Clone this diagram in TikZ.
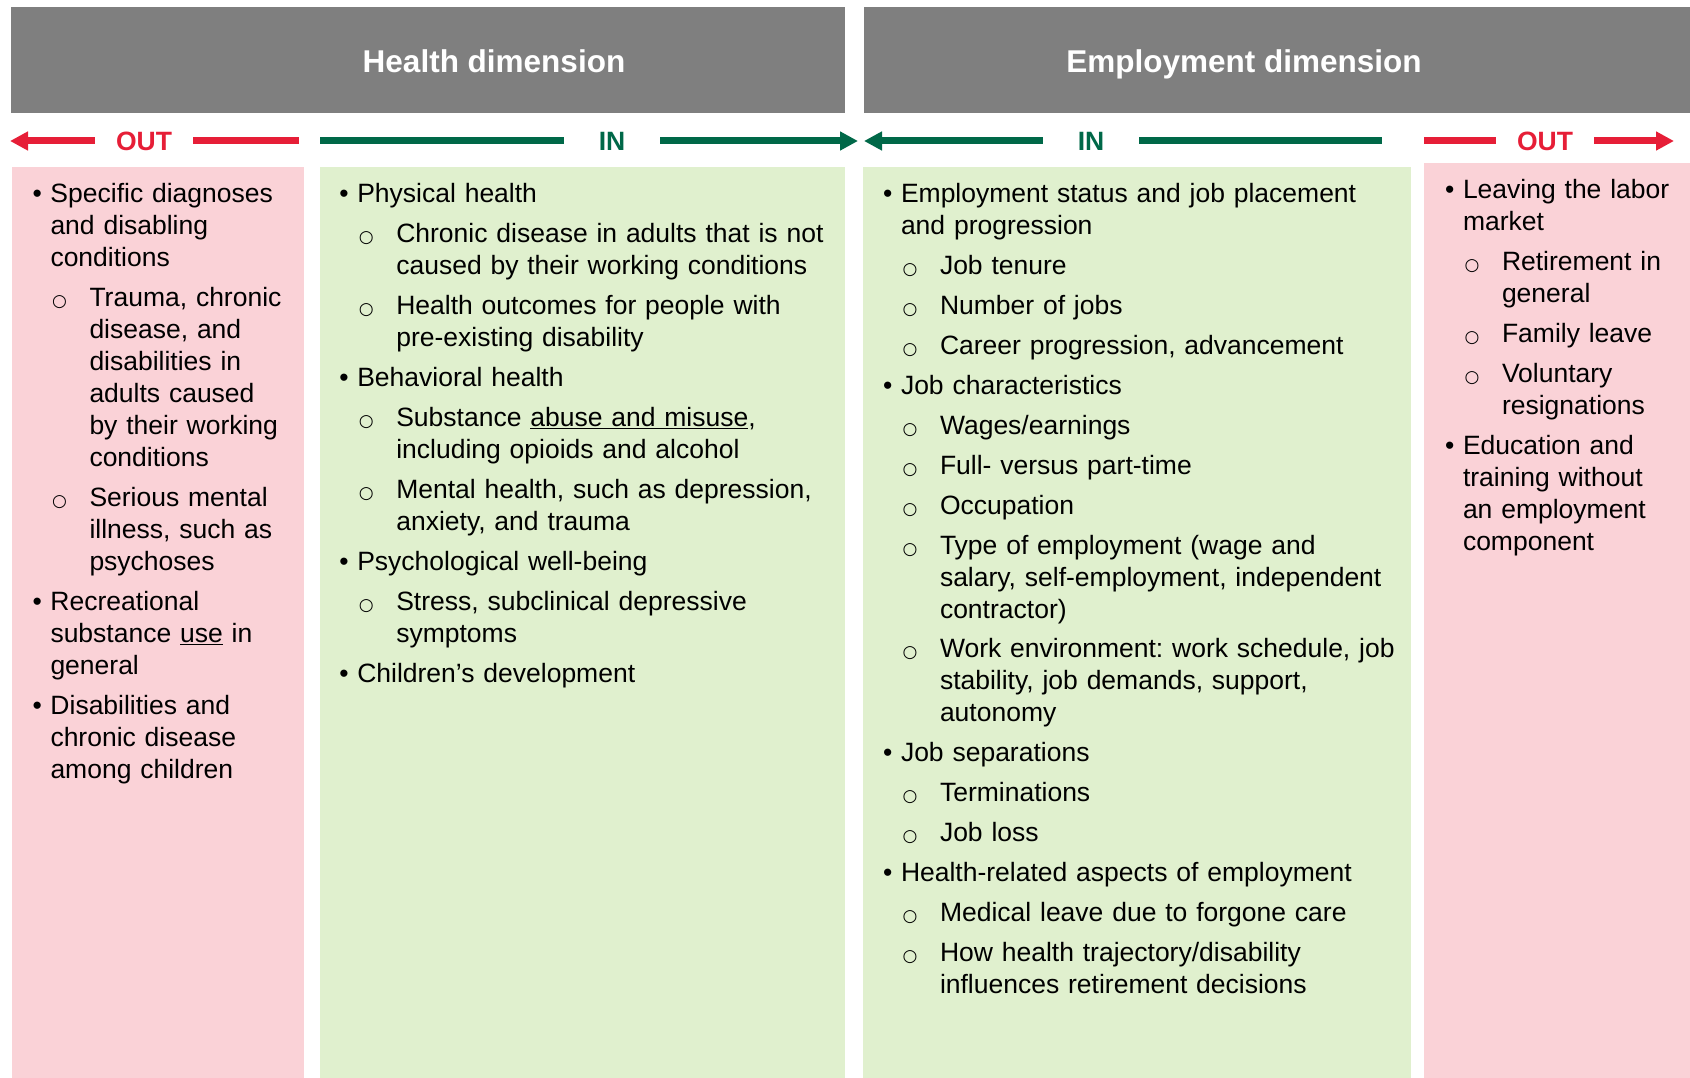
\documentclass[tikz,border=0pt]{standalone}
\usepackage{fontspec}
\setmainfont{Liberation Sans}
\newfontfamily\dejaf{DejaVu Sans}
\usetikzlibrary{arrows.meta}
\definecolor{hdrgray}{RGB}{127,127,127}
\definecolor{outpink}{RGB}{250,210,215}
\definecolor{ingreen}{RGB}{224,240,206}
\definecolor{outred}{RGB}{230,30,55}
\definecolor{indkgreen}{RGB}{0,104,72}
\newcommand\MainIt[1]{\par\leftskip=0pt\noindent\strut\llap{\makebox[18pt][l]{\textbullet}}#1\par}
\newcommand\SubIt[1]{\par\leftskip=39pt\noindent\strut\llap{\makebox[37.5pt][l]{{\fontsize{17}{17}\selectfont\dejaf ○}}}#1\par}
\frenchspacing
\begin{document}
\begin{tikzpicture}[x=1pt,y=-1pt,
  box/.style={draw=none,inner sep=0pt,outer sep=0pt,anchor=north west},
  hdrtext/.style={text=white,font=\fontsize{31.5}{38}\selectfont\bfseries,inner sep=0pt,anchor=base},
  lbl/.style={font=\fontsize{26.5}{32}\selectfont\bfseries,inner ysep=0pt},
  outlbl/.style={lbl,text=outred,inner xsep=21pt},
  inlbl/.style={lbl,text=indkgreen,inner xsep=35pt},
  redln/.style={draw=outred,line width=7pt},
  grnln/.style={draw=indkgreen,line width=7pt},
  tip/.style={-{Triangle[length=18pt,width=18pt]}},
  coltext/.style={anchor=north west,inner sep=0pt,outer sep=0pt,align=left,
    font=\fontsize{26.5}{32}\selectfont\frenchspacing}]
\useasboundingbox (0,0) rectangle (1690,1078);
% headers
\node[box,fill=hdrgray,minimum width=834pt,minimum height=106pt] (hhdr) at (11,7) {};
\node[box,fill=hdrgray,minimum width=826pt,minimum height=106pt] (ehdr) at (864,7) {};
\node[hdrtext] (htitle) at (494,72.5) {Health dimension};
\node[hdrtext] (etitle) at (1244,72.5) {Employment dimension};
% columns
\node[box,fill=outpink,minimum width=292pt,minimum height=911pt] (c1) at (12,167) {};
\node[box,fill=ingreen,minimum width=525pt,minimum height=911pt] (c2) at (320,167) {};
\node[box,fill=ingreen,minimum width=548pt,minimum height=911pt] (c3) at (863,167) {};
\node[box,fill=outpink,minimum width=266pt,minimum height=915pt] (c4) at (1424,163) {};
% arrow row
\node[outlbl] (out1) at (144,141) {OUT};
\coordinate (out1tip) at (10,141);
\coordinate (out1end) at (299,141);
\draw[redln,tip] (out1.west) -- (out1tip);
\draw[redln] (out1.east) -- (out1end);
\node[inlbl] (in1) at (612,141) {IN};
\coordinate (in1start) at (320,141);
\coordinate (in1tip) at (858,141);
\draw[grnln] (in1.west) -- (in1start);
\draw[grnln,tip] (in1.east) -- (in1tip);
\node[inlbl] (in2) at (1091,141) {IN};
\coordinate (in2tip) at (864,141);
\coordinate (in2end) at (1382,141);
\draw[grnln,tip] (in2.west) -- (in2tip);
\draw[grnln] (in2.east) -- (in2end);
\node[outlbl] (out2) at (1545,141) {OUT};
\coordinate (out2start) at (1424,141);
\coordinate (out2tip) at (1674,141);
\draw[redln] (out2.west) -- (out2start);
\draw[redln,tip] (out2.east) -- (out2tip);
% column texts
\node[coltext,text width=300pt] (t1) at (50.5,163) {\parskip=7.9pt
\MainIt{Specific diagnoses\newline and disabling\newline conditions}
\SubIt{Trauma, chronic\newline disease, and\newline disabilities in\newline adults caused\newline by their working\newline conditions}
\SubIt{Serious mental\newline illness, such as\newline psychoses}
\MainIt{Recreational\newline substance \underline{use} in\newline general}
\MainIt{Disabilities and\newline chronic disease\newline among children}};
\node[coltext,text width=480pt] (t2) at (357.3,163) {\parskip=7.9pt
\MainIt{Physical health}
\SubIt{Chronic disease in adults that is not\newline caused by their working conditions}
\SubIt{Health outcomes for people with\newline pre-existing disability}
\MainIt{Behavioral health}
\SubIt{Substance \underline{abuse and misuse},\newline including opioids and alcohol}
\SubIt{Mental health, such as depression,\newline anxiety, and trauma}
\MainIt{Psychological well-being}
\SubIt{Stress, subclinical depressive\newline symptoms}
\MainIt{Children’s development}};
\node[coltext,text width=505pt] (t3) at (901,163) {\parskip=7.9pt
\MainIt{Employment status and job placement\newline and progression}
\SubIt{Job tenure}
\SubIt{Number of jobs}
\SubIt{Career progression, advancement}
\MainIt{Job characteristics}
\SubIt{Wages/earnings}
\SubIt{Full- versus part-time}
\SubIt{Occupation}
\SubIt{Type of employment (wage and\newline salary, self-employment, independent\newline contractor)}
\SubIt{Work environment: work schedule, job\newline stability, job demands, support,\newline autonomy}
\MainIt{Job separations}
\SubIt{Terminations}
\SubIt{Job loss}
\MainIt{Health-related aspects of employment}
\SubIt{Medical leave due to forgone care}
\SubIt{How health trajectory/disability\newline influences retirement decisions}};
\node[coltext,text width=222pt] (t4) at (1463,158.7) {\parskip=7.9pt
\MainIt{Leaving the labor\newline market}
\SubIt{Retirement in\newline general}
\SubIt{Family leave}
\SubIt{Voluntary\newline resignations}
\MainIt{Education and\newline training without\newline an employment\newline component}};
\end{tikzpicture}
\end{document}
